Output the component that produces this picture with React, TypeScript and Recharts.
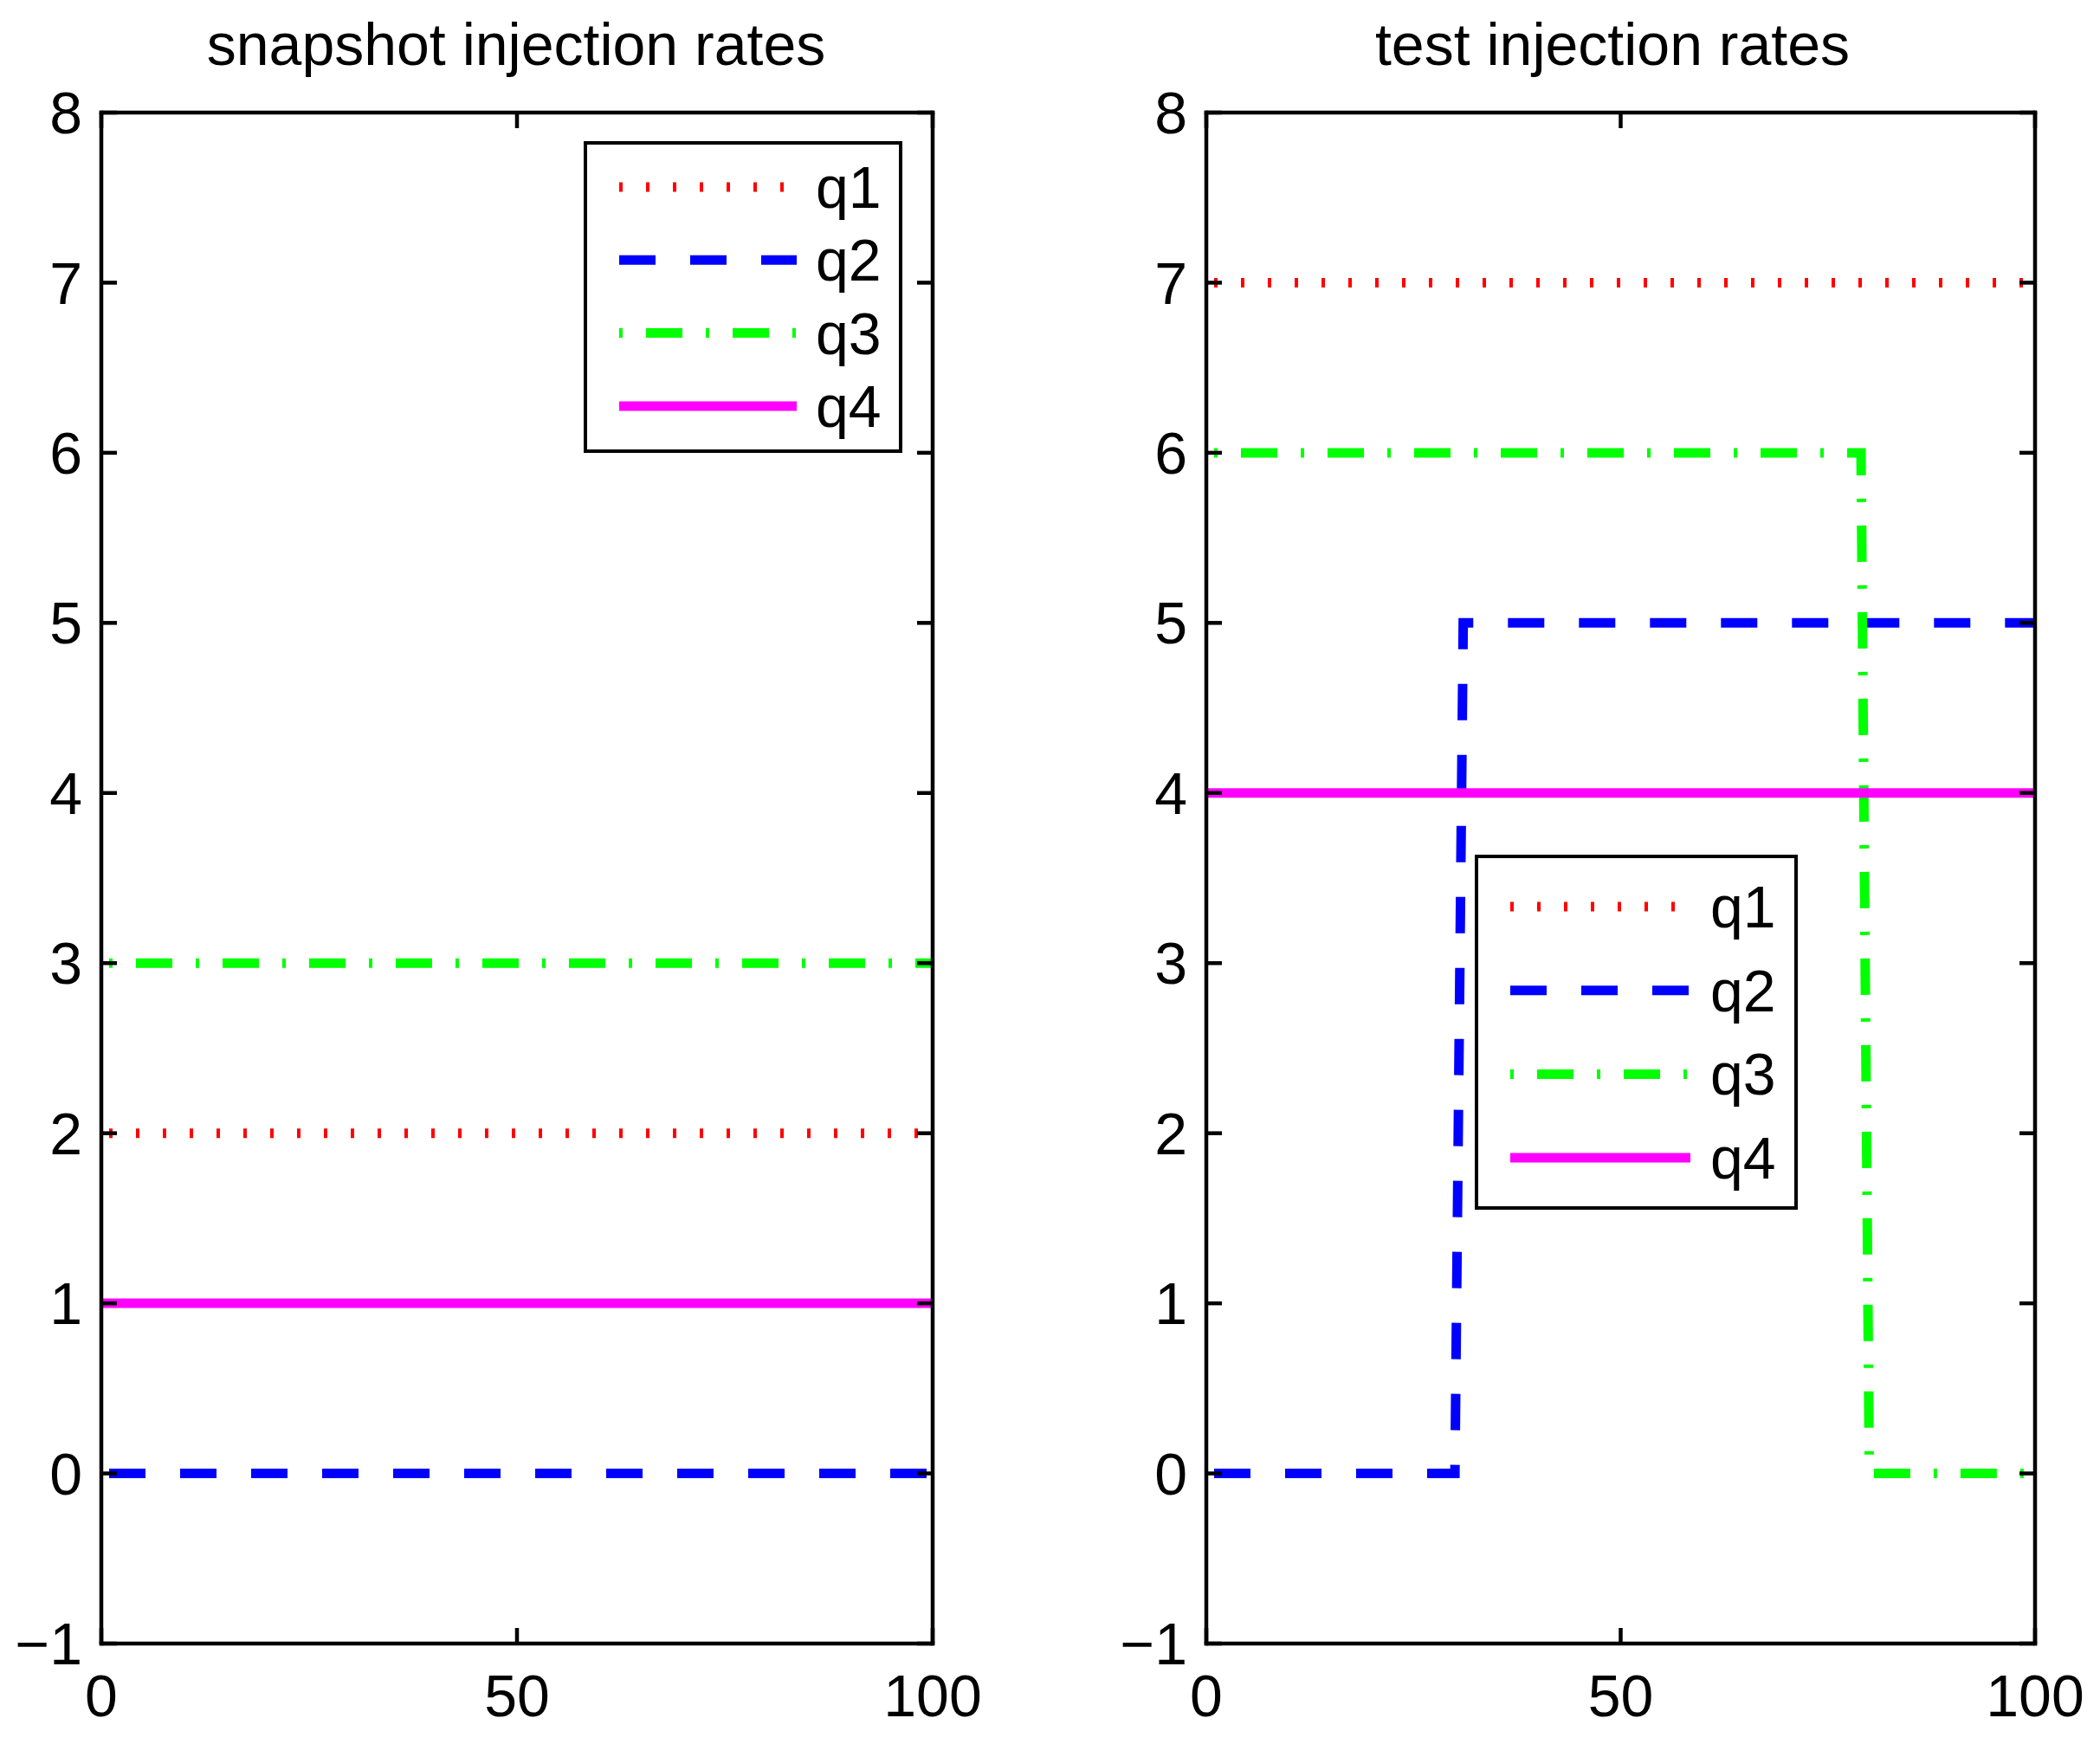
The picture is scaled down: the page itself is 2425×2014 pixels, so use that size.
import React from 'react';
import { LineChart, Line, XAxis, YAxis, Legend } from 'recharts';

// snapshot run: constant rates
const snapT = [0, 100];
const snapQ1 = [2, 2];
const snapQ2 = [0, 0];
const snapQ3 = [3, 3];
const snapQ4 = [1, 1];

// test run: q2 switches on near t=30, q3 switches off near t=80
const testT = [0, 30, 31, 79, 80, 100];
const testQ1 = [7, 7, 7, 7, 7, 7];
const testQ2 = [0, 0, 5, 5, 5, 5];
const testQ3 = [6, 6, 6, 6, 0, 0];
const testQ4 = [4, 4, 4, 4, 4, 4];

const xTicks = [0, 50, 100];
const yTicks = [-1, 0, 1, 2, 3, 4, 5, 6, 7, 8];

const seriesNames = ['q1', 'q2', 'q3', 'q4'];
const seriesColors = ['#ff0000', '#0000ff', '#00ff00', '#ff00ff'];
const seriesDash = ['4 27', '42 40', '4 27 42 27', undefined];
const seriesDashOffset = [22, 73, 91, 0];
// q1/q2 hang on bottom+left axes, q3/q4 on top+right axes (same domains),
// so every axis owns a series and gets its ticks drawn
const seriesXAxis = ['b', 'b', 't', 't'];
const seriesYAxis = ['l', 'l', 'r', 'r'];

const FONT = '"Liberation Sans", Arial, Helvetica, sans-serif';
const FS = 68;

function toRows(t: number[], q: number[][]) {
  return t.map((tt, i) => ({ t: tt, q1: q[0][i], q2: q[1][i], q3: q[2][i], q4: q[3][i] }));
}

const snapData = toRows(snapT, [snapQ1, snapQ2, snapQ3, snapQ4]);
const testData = toRows(testT, [testQ1, testQ2, testQ3, testQ4]);

const axisLine = { stroke: '#000', strokeWidth: 4.5, strokeLinecap: 'square' as const };
const tickLine = { stroke: '#000', strokeWidth: 4.5 };
const tickFont = { fill: '#000', fontSize: FS, fontFamily: FONT };
const fmt = (v: number) => (v < 0 ? `\u2212${Math.abs(v)}` : String(v));
const noLabel = () => '';

function LegendBox({ w, h, rowTop, rowStep, lineLen, textX }: any) {
  return (
    <svg width={w} height={h} style={{ display: 'block' }}>
      <rect x={2} y={2} width={w - 4} height={h - 4} fill="#fff" stroke="#000" strokeWidth={4} />
      {seriesNames.map((name, i) => {
        const y = rowTop + i * rowStep;
        return (
          <g key={name}>
            <line
              x1={41}
              x2={41 + lineLen}
              y1={y}
              y2={y}
              stroke={seriesColors[i]}
              strokeWidth={11}
              strokeDasharray={seriesDash[i]}
            />
            <text x={textX} y={y + 24} fontSize={FS} fontFamily={FONT} fill="#000">
              {name}
            </text>
          </g>
        );
      })}
    </svg>
  );
}

function Panel({ data, width, left, yAxisWidth, marginRight, legendPos, legendBox }: any) {
  return (
    <div style={{ position: 'absolute', left, top: 0 }}>
      <LineChart
        width={width}
        height={2014}
        data={data}
        margin={{ top: 129, right: marginRight, bottom: 0, left: 0 }}
      >
        <XAxis
          xAxisId="b"
          type="number"
          dataKey="t"
          domain={[0, 100]}
          ticks={xTicks}
          interval={0}
          height={116}
          allowDataOverflow
          stroke="#000"
          strokeWidth={4.5}
          axisLine={axisLine}
          tickLine={tickLine}
          tickSize={-18}
          tickMargin={54}
          tick={tickFont}
        />
        <XAxis
          xAxisId="t"
          orientation="top"
          type="number"
          dataKey="t"
          domain={[0, 100]}
          ticks={xTicks}
          interval={0}
          height={1}
          allowDataOverflow
          stroke="#000"
          strokeWidth={4.5}
          axisLine={axisLine}
          tickLine={tickLine}
          tickSize={-18}
          tick={tickFont}
          tickFormatter={noLabel}
        />
        <YAxis
          yAxisId="l"
          type="number"
          domain={[-1, 8]}
          ticks={yTicks}
          interval={0}
          width={yAxisWidth}
          allowDataOverflow
          stroke="#000"
          strokeWidth={4.5}
          axisLine={axisLine}
          tickLine={tickLine}
          tickSize={-18}
          tickMargin={40}
          tick={tickFont}
          tickFormatter={fmt}
        />
        <YAxis
          yAxisId="r"
          orientation="right"
          type="number"
          domain={[-1, 8]}
          ticks={yTicks}
          interval={0}
          width={1}
          allowDataOverflow
          stroke="#000"
          strokeWidth={4.5}
          axisLine={axisLine}
          tickLine={tickLine}
          tickSize={-18}
          tick={tickFont}
          tickFormatter={noLabel}
        />
        {seriesNames.map((name, i) => (
          <Line
            key={name}
            xAxisId={seriesXAxis[i]}
            yAxisId={seriesYAxis[i]}
            type="linear"
            dataKey={name}
            name={name}
            stroke={seriesColors[i]}
            strokeWidth={11}
            strokeDasharray={seriesDash[i]}
            strokeDashoffset={seriesDashOffset[i]}
            strokeLinejoin="miter"
            dot={false}
            activeDot={false}
            isAnimationActive={false}
          />
        ))}
        <Legend
          layout="vertical"
          align="center"
          verticalAlign="middle"
          wrapperStyle={{ left: legendPos[0], top: legendPos[1], width: legendBox.w, height: legendBox.h }}
          content={() => <LegendBox {...legendBox} />}
        />
      </LineChart>
    </div>
  );
}

function Title({ text, cx }: { text: string; cx: number }) {
  return (
    <div
      style={{
        position: 'absolute',
        left: cx - 600,
        width: 1200,
        top: 17,
        textAlign: 'center',
        fontFamily: FONT,
        fontSize: FS,
        lineHeight: `${FS}px`,
        color: '#000',
        whiteSpace: 'nowrap',
      }}
    >
      {text}
    </div>
  );
}

export default function App() {
  return (
    <div
      style={{
        position: 'absolute',
        left: 0,
        top: 0,
        width: 2425,
        height: 2014,
        background: '#fff',
        overflow: 'hidden',
      }}
    >
      <Panel
        data={snapData}
        width={1212}
        left={0}
        yAxisWidth={117}
        marginRight={134}
        legendPos={[674, 163]}
        legendBox={{ w: 368, h: 360, rowTop: 53, rowStep: 84.3, lineLen: 205, textX: 268 }}
      />
      <Panel
        data={testData}
        width={1213}
        left={1212}
        yAxisWidth={181}
        marginRight={74}
        legendPos={[491, 987]}
        legendBox={{ w: 373, h: 410, rowTop: 60, rowStep: 96.7, lineLen: 208, textX: 272 }}
      />
      <Title text="snapshot injection rates" cx={596} />
      <Title text="test injection rates" cx={1862} />
    </div>
  );
}
